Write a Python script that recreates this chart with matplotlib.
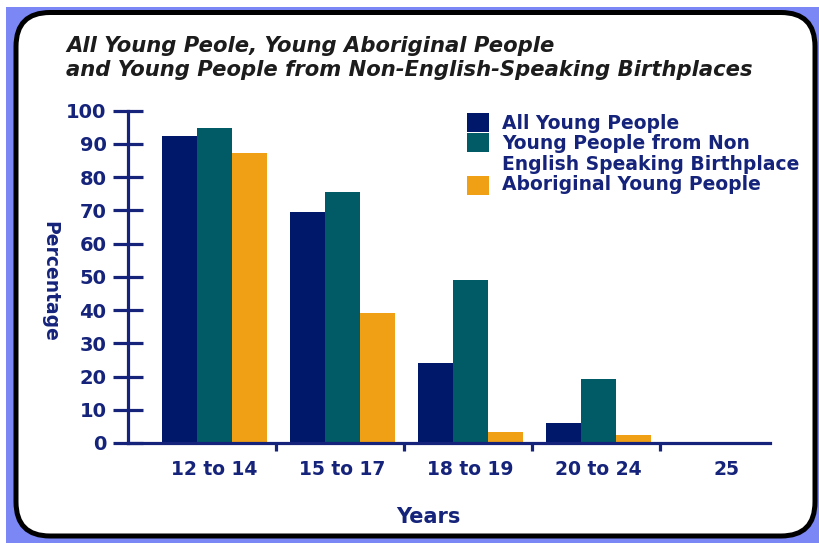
import matplotlib
matplotlib.use("Agg")
import matplotlib.pyplot as plt
from matplotlib.patches import FancyBboxPatch, Rectangle
from matplotlib.transforms import Affine2D
import numpy as np

# ---- data -------------------------------------------------------------
age_groups = ["12 to 14", "15 to 17", "18 to 19", "20 to 24", "25"]
series_names = [
    "All Young People",
    "Young People from Non\nEnglish Speaking Birthplace",
    "Aboriginal Young People",
]
all_young = [92.3, 69.4, 24.2, 5.9, 0.0]
non_english = [94.9, 75.5, 49.1, 19.2, 0.0]
aboriginal = [87.4, 39.2, 3.4, 2.3, 0.0]
y_ticks = [0, 10, 20, 30, 40, 50, 60, 70, 80, 90, 100]

title_lines = [
    "All Young Peole, Young Aboriginal People",
    "and Young People from Non-English-Speaking Birthplaces",
]

# ---- styling ----------------------------------------------------------
W, H = 819, 543
NAVY_TXT = "#15247a"
COLORS = ["#00186a", "#005b66", "#f0a015"]
FONT = ["DejaVu Sans"]

fig = plt.figure(figsize=(W / 100, H / 100), dpi=100)
fig.patch.set_facecolor("white")

# pixel coordinates measured from the top-left corner
PX = Affine2D().scale(1 / 100, -1 / 100).translate(0, H / 100) + fig.dpi_scale_trans

# periwinkle backdrop and rounded white card
fig.patches.append(Rectangle((6, 7), W - 6, H - 7, transform=PX,
                             facecolor="#7c87f6", edgecolor="none", zorder=-3))
fig.patches.append(FancyBboxPatch((16, 12.5), 799, 523.5, transform=PX,
                                  boxstyle="round,pad=0,rounding_size=34",
                                  facecolor="white", edgecolor="black",
                                  linewidth=3.6, zorder=-2))

# ---- axes -------------------------------------------------------------
x0_px, x1_px, y0_px, y100_px = 128, 770, 443, 110.7
ax = fig.add_axes([x0_px / W, (H - y0_px) / H, (x1_px - x0_px) / W,
                   (y0_px - y100_px) / H])
ax.set_facecolor("none")

group_px = 128.0
center0_px = 214.5
ax.set_xlim((x0_px - center0_px) / group_px, (x1_px - center0_px) / group_px)
ax.set_ylim(0, 100)

x = np.arange(len(age_groups))
bw = 35 / group_px
for k, (vals, col) in enumerate(zip([all_young, non_english, aboriginal], COLORS)):
    ax.bar(x + (k - 1) * bw, vals, width=bw, color=col, edgecolor="none",
           zorder=2)

for side in ("top", "right"):
    ax.spines[side].set_visible(False)
for side in ("left", "bottom"):
    ax.spines[side].set_color(NAVY_TXT)
    ax.spines[side].set_linewidth(2.3)
    ax.spines[side].set_zorder(3)

ax.set_yticks(y_ticks)
ax.set_yticklabels([str(v) for v in y_ticks], fontsize=14, fontweight="bold",
                   color=NAVY_TXT, family=FONT)
ax.tick_params(axis="y", direction="inout", length=21, width=2.3,
               color=NAVY_TXT, pad=5)

ax.set_xticks(x)
ax.set_xticklabels(age_groups, fontsize=13.5, fontweight="bold",
                   color=NAVY_TXT, family=FONT)
ax.set_xticks(x[:-1] + 0.48, minor=True)
ax.tick_params(axis="x", which="major", length=0, pad=12)
ax.tick_params(axis="x", which="minor", direction="out", length=6,
               width=2.3, color=NAVY_TXT)

# ---- texts ------------------------------------------------------------
for row, y_px in zip(title_lines, (46, 70)):
    fig.text(66, y_px, row, transform=PX, ha="left", va="center",
             fontsize=15.2, fontweight="bold", fontstyle="italic",
             color="#1c1c1c", family=FONT)

fig.text(50, 281, "Percentage", transform=PX, rotation=270, ha="center",
         va="center", fontsize=13.5, fontweight="bold", color=NAVY_TXT,
         family=FONT)
fig.text(428, 517, "Years", transform=PX, ha="center", va="center",
         fontsize=15, fontweight="bold", color=NAVY_TXT, family=FONT)

# legend
sq_tops = [113, 133, 176]
text_base = [129, 149, 190]
label_rows = [[series_names[0]], series_names[1].split("\n"), [series_names[2]]]
for k, col in enumerate(COLORS):
    fig.patches.append(Rectangle((467, sq_tops[k]), 22, 19, transform=PX,
                                 facecolor=col, edgecolor="none"))
    for j, row in enumerate(label_rows[k]):
        fig.text(502, text_base[k] + j * 20.5, row, transform=PX, ha="left",
                 va="baseline", fontsize=13.5, fontweight="bold",
                 color=NAVY_TXT, family=FONT)

fig.savefig("out.png", dpi=100)
